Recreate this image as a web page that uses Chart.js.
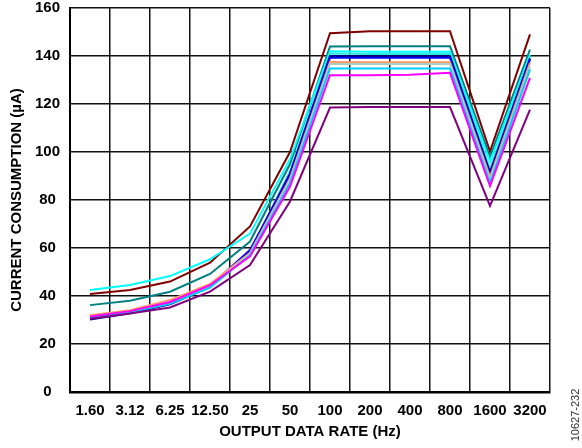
<!DOCTYPE html>
<html>
<head>
<meta charset="utf-8">
<script src="https://cdn.jsdelivr.net/npm/chart.js@4"></script>
<style>
  html, body { margin: 0; padding: 0; background: #fff; }
  #wrap { width: 582px; height: 448px; position: relative; }
</style>
</head>
<body>
<div id="wrap"><canvas id="line-chart"></canvas></div>
<script>
// output data rates (Hz)
const rates = ['1.60', '3.12', '6.25', '12.50', '25', '50', '100', '200', '400', '800', '1600', '3200'];

// current consumption (uA), one array per curve
const maroonCurve = [40.8, 42.5, 46.0, 53.9, 69.0, 100.0, 149.5, 150.3, 150.3, 150.3, 100.2, 149.0];
const cyanCurve = [42.5, 44.6, 48.3, 55.3, 66.0, 97.0, 142.0, 141.8, 141.8, 141.8, 96.0, 140.6];
const tealCurve = [36.2, 38.0, 41.8, 49.2, 62.7, 95.0, 144.0, 144.1, 144.1, 144.1, 98.0, 142.7];
const turquoiseCurve = [31.5, 33.5, 37.0, 44.0, 58.0, 92.0, 141.0, 140.8, 140.8, 140.8, 93.0, 139.5];
const navyCurve = [30.2, 32.8, 36.5, 43.8, 58.5, 91.0, 140.0, 139.9, 139.9, 139.9, 91.5, 139.0];
const blueCurve = [30.8, 33.2, 37.0, 44.2, 59.2, 90.5, 139.3, 139.3, 139.3, 139.3, 90.5, 138.6];
const salmonCurve = [32.0, 34.1, 38.3, 45.0, 58.0, 89.0, 137.5, 137.4, 137.4, 137.4, 89.5, 137.2];
const sageCurve = [31.2, 33.4, 37.2, 44.0, 57.5, 88.0, 136.7, 136.7, 136.7, 136.7, 88.4, 135.8];
const skyCurve = [31.0, 33.2, 36.8, 43.5, 57.0, 87.0, 134.8, 134.8, 134.8, 134.8, 87.0, 134.4];
const magentaCurve = [31.5, 33.7, 37.5, 44.5, 56.5, 85.6, 132.0, 132.0, 132.2, 133.0, 85.8, 130.9];
const purpleCurve = [30.5, 32.7, 35.2, 41.8, 52.9, 79.4, 118.5, 118.7, 118.7, 118.7, 77.6, 117.7];

const yTicksMin = 0, yTicksMax = 160, yStep = 20;

let mkLine = function(data, color){
    return {
        data: data,
        borderColor: color,
        backgroundColor: color,
        borderWidth: 2,
        pointRadius: 0,
        fill: false,
        tension: 0
    };
};

//figure number on the right edge
const figNote = {
    id: 'figNote',
    afterDraw(chart){
        const ctx = chart.ctx;
        ctx.save();
        ctx.translate(576, 415);
        ctx.rotate(-Math.PI / 2);
        ctx.font = '11px "Liberation Sans", Arial, sans-serif';
        ctx.fillStyle = '#333';
        ctx.textAlign = 'center';
        ctx.textBaseline = 'middle';
        ctx.fillText('10627-232', 0, 0);
        ctx.restore();
    }
};

const boldFont = { family: '"Liberation Sans", Arial, sans-serif', size: 15, weight: 'bold' };

const config = {
    type: 'line',
    data: {
        labels: rates,
        datasets: [
            mkLine(purpleCurve, '#800080'),
            mkLine(magentaCurve, '#ff00ff'),
            mkLine(skyCurve, '#00ccff'),
            mkLine(sageCurve, '#a8cfc4'),
            mkLine(salmonCurve, '#ff9966'),
            mkLine(blueCurve, '#0000ff'),
            mkLine(navyCurve, '#000080'),
            mkLine(turquoiseCurve, '#33e6e6'),
            mkLine(cyanCurve, '#00ffff'),
            mkLine(tealCurve, '#008080'),
            mkLine(maroonCurve, '#800000')
        ]
    },
    options: {
        responsive: false,
        animation: false,
        devicePixelRatio: 1,
        layout: { padding: { left: 0, right: 32, top: 8, bottom: 0 } },
        plugins: { legend: { display: false }, tooltip: { enabled: false } },
        scales: {
            x: {
                offset: true,
                grid: { offset: true, color: '#111', lineWidth: 1.5, drawTicks: false },
                border: { color: '#000', width: 2.5 },
                ticks: { color: '#000', font: boldFont, padding: 10, maxRotation: 0, autoSkip: false },
                title: { display: true, text: 'OUTPUT DATA RATE (Hz)', color: '#000', font: boldFont, padding: { top: 0, bottom: 7 } },
                afterFit: s => { s.height = 56; }
            },
            y: {
                min: yTicksMin,
                max: yTicksMax,
                grid: { color: '#111', lineWidth: 1.5, drawTicks: false },
                border: { color: '#000', width: 2 },
                ticks: { stepSize: yStep, color: '#000', font: boldFont, padding: 10, crossAlign: 'center' },
                title: { display: true, text: 'CURRENT CONSUMPTION (µA)', color: '#000', font: boldFont, padding: { top: 8, bottom: 0 } },
                afterFit: s => { s.width = 70; s.paddingTop = 0; }
            }
        }
    },
    plugins: [figNote]
};

const canvas = document.querySelector('#line-chart');
canvas.width = 582;
canvas.height = 448;
const myChart = new Chart(canvas, config);
</script>
</body>
</html>
